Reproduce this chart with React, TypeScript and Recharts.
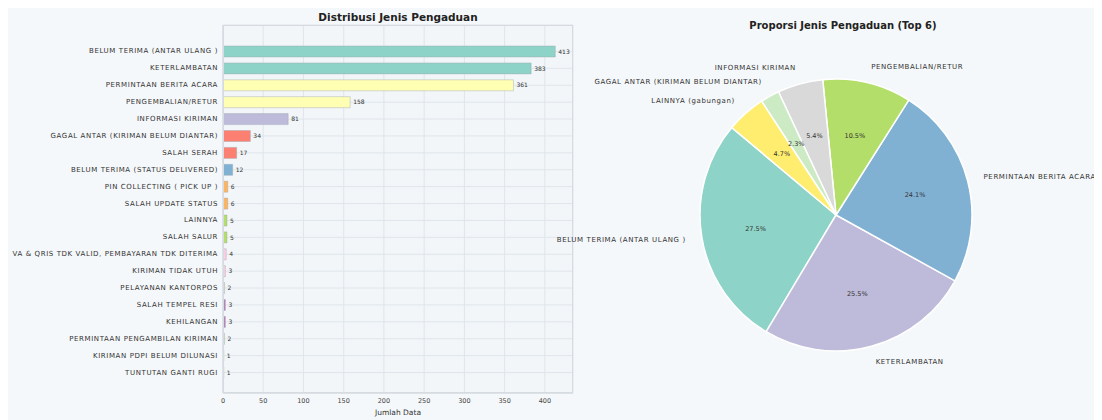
import { BarChart, Bar, XAxis, YAxis, CartesianGrid, Cell, LabelList, PieChart, Pie } from "recharts";

const categories = [
  "BELUM TERIMA (ANTAR ULANG )",
  "KETERLAMBATAN",
  "PERMINTAAN BERITA ACARA",
  "PENGEMBALIAN/RETUR",
  "INFORMASI KIRIMAN",
  "GAGAL ANTAR (KIRIMAN BELUM DIANTAR)",
  "SALAH SERAH",
  "BELUM TERIMA (STATUS DELIVERED)",
  "PIN COLLECTING ( PICK UP )",
  "SALAH UPDATE STATUS",
  "LAINNYA",
  "SALAH SALUR",
  "VA & QRIS TDK VALID, PEMBAYARAN TDK DITERIMA",
  "KIRIMAN TIDAK UTUH",
  "PELAYANAN KANTORPOS",
  "SALAH TEMPEL RESI",
  "KEHILANGAN",
  "PERMINTAAN PENGAMBILAN KIRIMAN",
  "KIRIMAN PDPI BELUM DILUNASI",
  "TUNTUTAN GANTI RUGI",
];
const counts = [413, 383, 361, 158, 81, 34, 17, 12, 6, 6, 5, 5, 4, 3, 2, 3, 3, 2, 1, 1];
const barColors = [
  "#8dd3c7", "#8dd3c7", "#ffffb3", "#ffffb3", "#bebada", "#fb8072", "#fb8072",
  "#80b1d3", "#fdb462", "#fdb462", "#b3de69", "#b3de69", "#fccde5", "#fccde5",
  "#d9d9d9", "#bc80bd", "#bc80bd", "#ccebc5", "#ccebc5", "#ffed6f",
];
const xTicks = [0, 50, 100, 150, 200, 250, 300, 350, 400];

const pieNames = [
  "BELUM TERIMA (ANTAR ULANG )",
  "KETERLAMBATAN",
  "PERMINTAAN BERITA ACARA",
  "PENGEMBALIAN/RETUR",
  "INFORMASI KIRIMAN",
  "GAGAL ANTAR (KIRIMAN BELUM DIANTAR)",
  "LAINNYA (gabungan)",
];
const pieValues = [413, 383, 361, 158, 81, 34, 70];
const pieColors = ["#8dd3c7", "#bebada", "#80b1d3", "#b3de69", "#d9d9d9", "#ccebc5", "#ffed6f"];

const barData = categories.map((name, i) => ({ name, count: counts[i], color: barColors[i] }));
const pieData = pieNames.map((name, i) => ({ name, value: pieValues[i], color: pieColors[i] }));

const FONT = "'DejaVu Sans', sans-serif";
const RADIAN = Math.PI / 180;

// single-line tick, recharts would otherwise wrap the long category names
const YTick = ({ x, y, payload }: any) => (
  <text
    x={x}
    y={y}
    textAnchor="end"
    dominantBaseline="central"
    fontSize={7}
    letterSpacing={0.6}
    fill="#333"
    fontFamily={FONT}
  >
    {payload.value}
  </text>
);

const renderPieLabel = ({ cx, cy, midAngle, outerRadius, percent, name }: any) => {
  const cos = Math.cos(-midAngle * RADIAN);
  const sin = Math.sin(-midAngle * RADIAN);
  const r1 = outerRadius * 1.12;
  const r2 = outerRadius * 0.6;
  return (
    <g>
      <text
        x={cx + r1 * cos}
        y={cy + r1 * sin}
        textAnchor={cos >= 0 ? "start" : "end"}
        dominantBaseline="central"
        fontSize={7}
        letterSpacing={0.6}
        fill="#333"
        stroke="none"
        fontFamily={FONT}
      >
        {name}
      </text>
      <text
        x={cx + r2 * cos}
        y={cy + r2 * sin}
        textAnchor="middle"
        dominantBaseline="central"
        fontSize={6.5}
        fill="#333"
        stroke="none"
        fontFamily={FONT}
      >
        {(percent * 100).toFixed(1)}%
      </text>
    </g>
  );
};

export default function App() {
  return (
    <div
      style={{
        position: "relative",
        width: 1094,
        height: 412,
        background: "#f5f8fa",
        fontFamily: FONT,
        overflow: "hidden",
      }}
    >
      <div
        style={{
          position: "absolute",
          left: 215,
          width: 350,
          top: 3,
          textAlign: "center",
          fontSize: 10.5,
          fontWeight: "bold",
          color: "#222",
        }}
      >
        Distribusi Jenis Pengaduan
      </div>
      <div
        style={{
          position: "absolute",
          left: 215,
          top: 17,
          width: 350,
          height: 368,
          border: "1px solid #d5dbe0",
          boxSizing: "border-box",
          pointerEvents: "none",
          zIndex: 2,
        }}
      />
      <div style={{ position: "absolute", left: 0, top: 0 }}>
        <BarChart
          width={580}
          height={412}
          data={barData}
          layout="vertical"
          margin={{ top: 17, right: 15, bottom: 0, left: 0 }}
        >
          <CartesianGrid stroke="#dfe5ea" fill="#f2f6f9" />
          <XAxis
            type="number"
            domain={[0, 435]}
            ticks={xTicks}
            allowDataOverflow
            height={27}
            tickLine={false}
            tickSize={3}
            tickMargin={2}
            axisLine={{ stroke: "#cfd6dc" }}
            tick={{ fontSize: 6.5, fill: "#444", fontFamily: FONT }}
          />
          <YAxis
            type="category"
            dataKey="name"
            width={215}
            interval={0}
            padding={{ top: 18, bottom: 12 }}
            tickLine={false}
            tickSize={3}
            tickMargin={2}
            axisLine={{ stroke: "#cfd6dc" }}
            tick={<YTick />}
          />
          <Bar dataKey="count" barSize={11} isAnimationActive={false} stroke="#9aa4ad" strokeWidth={0.4}>
            {barData.map((d, i) => (
              <Cell key={`c-${i}`} fill={d.color} />
            ))}
            <LabelList dataKey="count" position="right" offset={3} fontSize={6} fill="#333" fontFamily={FONT} />
          </Bar>
        </BarChart>
      </div>
      <div
        style={{
          position: "absolute",
          left: 215,
          width: 350,
          top: 400,
          textAlign: "center",
          fontSize: 7.5,
          color: "#333",
        }}
      >
        Jumlah Data
      </div>
      <div
        style={{
          position: "absolute",
          left: 580,
          width: 510,
          top: 12,
          textAlign: "center",
          fontSize: 10,
          fontWeight: "bold",
          color: "#222",
        }}
      >
        Proporsi Jenis Pengaduan (Top 6)
      </div>
      <div style={{ position: "absolute", left: 540, top: 0, zIndex: 3 }}>
        <PieChart width={554} height={412}>
          <Pie
            data={pieData}
            dataKey="value"
            nameKey="name"
            cx={283}
            cy={202}
            outerRadius={136}
            startAngle={140}
            endAngle={500}
            stroke="#ffffff"
            strokeWidth={1.5}
            labelLine={false}
            label={renderPieLabel}
            isAnimationActive={false}
          >
            {pieData.map((d, i) => (
              <Cell key={`p-${i}`} fill={d.color} />
            ))}
          </Pie>
        </PieChart>
      </div>
    </div>
  );
}
